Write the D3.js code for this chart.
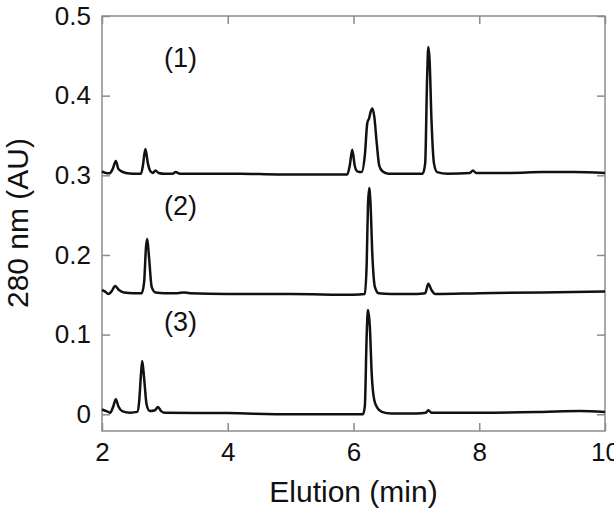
<!DOCTYPE html>
<html>
<head>
<meta charset="utf-8">
<script src="https://cdn.jsdelivr.net/npm/d3@7"></script>
<style>
  body { margin: 0; background: #fff; }
  text { font-family: "Liberation Sans", Arial, sans-serif; fill: #111; }
</style>
</head>
<body>
<div id="chart"></div>
<script>
// chromatograms, [time (min), absorbance (AU)]
const trace1 = [
  [2.00, 0.305], [2.06, 0.303], [2.12, 0.3025], [2.17, 0.308], [2.22, 0.318], [2.26, 0.308],
  [2.31, 0.305], [2.38, 0.303], [2.50, 0.302], [2.62, 0.302], [2.65, 0.312], [2.69, 0.333],
  [2.73, 0.315], [2.77, 0.305], [2.81, 0.303], [2.85, 0.306], [2.90, 0.303], [3.00, 0.302],
  [3.12, 0.302], [3.17, 0.304], [3.24, 0.302], [3.60, 0.302], [4.20, 0.302], [4.80, 0.301],
  [5.40, 0.301], [5.90, 0.301], [5.94, 0.312], [5.98, 0.332], [6.02, 0.312], [6.06, 0.305],
  [6.13, 0.304], [6.18, 0.325], [6.22, 0.366], [6.25, 0.372], [6.27, 0.379], [6.30, 0.384],
  [6.33, 0.374], [6.37, 0.340], [6.41, 0.312], [6.46, 0.305], [6.55, 0.302], [6.80, 0.302],
  [7.10, 0.302], [7.14, 0.315], [7.17, 0.420], [7.19, 0.461], [7.21, 0.445], [7.24, 0.370],
  [7.28, 0.315], [7.33, 0.304], [7.50, 0.302], [7.85, 0.303], [7.90, 0.306], [7.95, 0.303],
  [8.50, 0.303], [9.00, 0.304], [9.50, 0.304], [10.0, 0.303]
];
const trace2 = [
  [2.00, 0.156], [2.05, 0.154], [2.10, 0.151], [2.15, 0.154], [2.21, 0.161], [2.27, 0.156],
  [2.35, 0.153], [2.50, 0.152], [2.63, 0.152], [2.67, 0.166], [2.70, 0.210], [2.72, 0.220],
  [2.75, 0.195], [2.79, 0.160], [2.85, 0.153], [3.00, 0.152], [3.20, 0.152], [3.30, 0.153],
  [3.40, 0.152], [4.00, 0.151], [5.00, 0.151], [6.00, 0.150], [6.18, 0.151], [6.21, 0.190],
  [6.23, 0.262], [6.25, 0.284], [6.27, 0.265], [6.30, 0.200], [6.34, 0.160], [6.40, 0.152],
  [6.60, 0.151], [7.00, 0.151], [7.14, 0.152], [7.19, 0.164], [7.24, 0.156], [7.30, 0.151],
  [8.00, 0.152], [9.00, 0.153], [10.0, 0.154]
];
const trace3 = [
  [2.00, 0.006], [2.07, 0.004], [2.13, 0.002], [2.18, 0.010], [2.22, 0.019], [2.26, 0.010],
  [2.32, 0.004], [2.45, 0.002], [2.56, 0.003], [2.59, 0.015], [2.62, 0.050], [2.64, 0.067],
  [2.67, 0.045], [2.71, 0.012], [2.76, 0.004], [2.84, 0.005], [2.89, 0.009], [2.94, 0.004],
  [3.00, 0.002], [4.00, 0.0015], [5.00, 0.000], [6.00, 0.000], [6.15, 0.000], [6.18, 0.010],
  [6.21, 0.100], [6.23, 0.131], [6.26, 0.110], [6.29, 0.050], [6.33, 0.018], [6.38, 0.008],
  [6.45, 0.003], [6.60, 0.001], [7.00, 0.001], [7.15, 0.002], [7.19, 0.005], [7.24, 0.002],
  [8.00, 0.002], [9.00, 0.003], [9.60, 0.004], [10.0, 0.003]
];
const traceLabels = ["(1)", "(2)", "(3)"];
const labelPos = [[3.25, 0.436], [3.25, 0.250], [3.25, 0.105]]; // [time, AU] anchor of each label
const xTicks = [2, 4, 6, 8, 10];
const yTicks = [0, 0.1, 0.2, 0.3, 0.4, 0.5];

const width = 614;
const height = 519;
const margin = { top: 16, right: 9, bottom: 88, left: 102 };

const svg = d3.select("#chart")
  .append("svg")
  .attr("width", width)
  .attr("height", height);

const x = d3.scaleLinear().domain([2, 10]).range([margin.left, width - margin.right]);
const y = d3.scaleLinear().domain([-0.021, 0.5]).range([height - margin.bottom, margin.top]);

const frameColor = "#8c8c8c";
const tickLen = 8;

// frame
svg.append("rect")
  .attr("x", x(2)).attr("y", y(0.5))
  .attr("width", x(10) - x(2)).attr("height", y(-0.021) - y(0.5))
  .attr("fill", "none")
  .attr("stroke", frameColor)
  .attr("stroke-width", 1.5);

// inward ticks on all four sides
const axes = [
  d3.axisBottom(x).tickValues(xTicks).tickSizeInner(-tickLen).tickSizeOuter(0).tickPadding(12).tickFormat(d3.format("d")),
  d3.axisTop(x).tickValues(xTicks).tickSizeInner(-tickLen).tickSizeOuter(0).tickFormat(""),
  d3.axisLeft(y).tickValues(yTicks).tickSizeInner(-tickLen).tickSizeOuter(0).tickPadding(11).tickFormat(d => d === 0 ? "0" : d3.format(".1f")(d)),
  d3.axisRight(y).tickValues(yTicks).tickSizeInner(-tickLen).tickSizeOuter(0).tickFormat("")
];
const translates = [
  `translate(0,${y(-0.021)})`, `translate(0,${y(0.5)})`,
  `translate(${x(2)},0)`, `translate(${x(10)},0)`
];
axes.forEach((ax, i) => {
  const g = svg.append("g").attr("transform", translates[i]).call(ax);
  g.select(".domain").remove();
  g.selectAll(".tick line").attr("stroke", frameColor).attr("stroke-width", 1.5);
  g.selectAll(".tick text")
    .attr("font-size", "26px")
    .attr("fill", "#111")
    .style("font-family", "'Liberation Sans', Arial, sans-serif");
});

// traces
const line = d3.line().x(d => x(d[0])).y(d => y(d[1])).curve(d3.curveMonotoneX);
[trace1, trace2, trace3].forEach(tr => {
  svg.append("path")
    .datum(tr)
    .attr("d", line)
    .attr("fill", "none")
    .attr("stroke", "#111")
    .attr("stroke-width", 2.5)
    .attr("stroke-linejoin", "round");
});

// trace labels
svg.selectAll(".lbl")
  .data(traceLabels)
  .enter().append("text")
  .attr("class", "lbl")
  .attr("x", (d, i) => x(labelPos[i][0]))
  .attr("y", (d, i) => y(labelPos[i][1]))
  .attr("text-anchor", "middle")
  .attr("font-size", "27px")
  .text(d => d);

// axis titles
svg.append("text")
  .attr("x", (x(2) + x(10)) / 2)
  .attr("y", 502)
  .attr("text-anchor", "middle")
  .attr("font-size", "30px")
  .text("Elution (min)");

svg.append("text")
  .attr("transform", `translate(28,${223}) rotate(-90)`)
  .attr("text-anchor", "middle")
  .attr("font-size", "30px")
  .text("280 nm (AU)");
</script>
</body>
</html>
